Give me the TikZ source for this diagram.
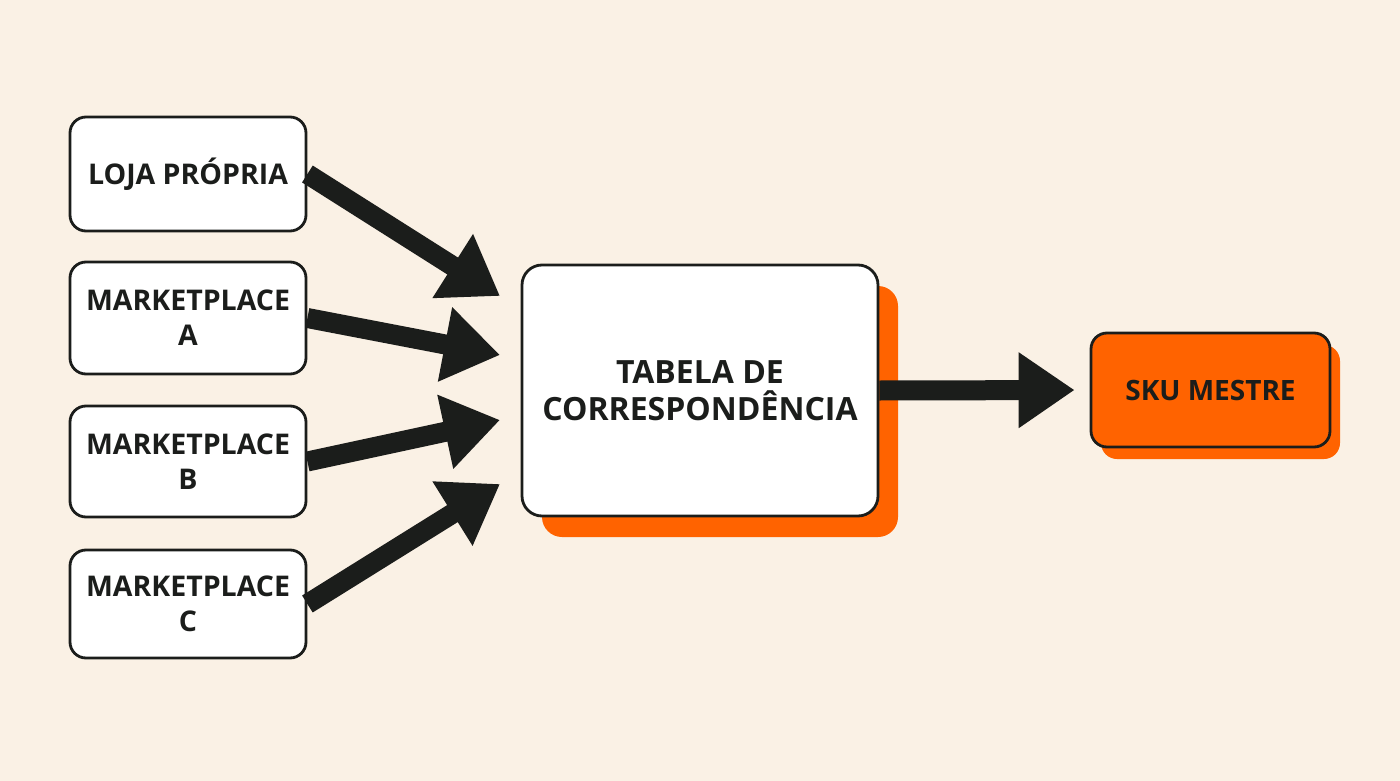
\documentclass[tikz,border=0pt]{standalone}
\usepackage{fontspec}
\setmainfont{Open Sans}
\usetikzlibrary{arrows.meta,shadows}
\definecolor{bg}{HTML}{FAF1E5}
\definecolor{org}{HTML}{FF6300}
\definecolor{ink}{HTML}{1B1D1B}
\begin{document}
\begin{tikzpicture}[x=1pt,y=-1pt,
  src/.style={draw=ink, line width=2.8pt, fill=white, rounded corners=16pt,
    minimum width=236pt, align=center, inner sep=0pt, text=ink,
    font=\bfseries\fontsize{28.5}{35}\selectfont},
  hub/.style={draw=ink, line width=2.8pt, fill=white, rounded corners=20pt,
    minimum width=356pt, minimum height=251pt, align=center, inner sep=0pt, text=ink,
    font=\bfseries\fontsize{32}{37}\selectfont,
    drop shadow={shadow xshift=20pt, shadow yshift=-21pt, fill=org, opacity=1}},
  outbox/.style={draw=ink, line width=2.8pt, fill=org, rounded corners=16pt,
    minimum width=239pt, minimum height=114pt, align=center, inner sep=0pt, text=ink,
    font=\bfseries\fontsize{28}{35}\selectfont,
    drop shadow={shadow xshift=10pt, shadow yshift=-12pt, fill=org, opacity=1}},
  arr/.style={draw=ink, line width=20pt, -{Triangle[length=56pt,width=72pt]}}
]
\fill[bg] (0,0) rectangle (1400,781);
\useasboundingbox (0,0) rectangle (1400,781);

\node[src, minimum height=114pt] (l1) at (188,174) {LOJA PRÓPRIA};
\node[src, minimum height=112pt] (l2) at (188,318) {MARKETPLACE\\A};
\node[src, minimum height=111pt] (l3) at (188,461.5) {MARKETPLACE\\B};
\node[src, minimum height=108pt] (l4) at (188,604) {MARKETPLACE\\C};

\node[hub] (c) at (700,390.5) {TABELA DE\\CORRESPONDÊNCIA};
\node[outbox] (s) at (1210.5,390) {SKU MESTRE};

\coordinate (t1) at (500,296);
\coordinate (t2) at (500,355);
\coordinate (t3) at (500,420);
\coordinate (t4) at (500,484);

\draw[arr] (l1.east) -- (t1);
\draw[arr] (l2.east) -- (t2);
\draw[arr] (l3.east) -- (t3);
\draw[arr] (l4.east) -- (t4);
\draw[arr, shorten >=15pt] (c.east) -- (s.west);
\end{tikzpicture}
\end{document}
